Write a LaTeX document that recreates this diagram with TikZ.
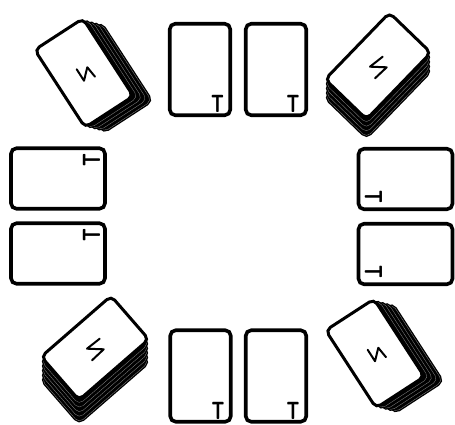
\documentclass[tikz,border=0pt]{standalone}
\usetikzlibrary{calc}
\newcommand{\narrowT}{\scalebox{0.7}[1]{T}}
\begin{document}
\begin{tikzpicture}[x=1pt,y=-1pt,
 card/.style={draw=black, line width=3.6pt, rounded corners=5.5pt, fill=white, inner sep=0pt},
 upcard/.style={card, minimum width=60.5pt, minimum height=91.5pt},
 sidecard/.style={card, minimum width=94pt, minimum height=60.5pt},
 deckface/.style={card, line width=3pt, minimum width=57.5pt, minimum height=92.5pt},
 decklayer/.style={deckface, fill=black, draw=black, double=black!45, double distance=0.3pt, line width=1.4pt},
 tmark/.style={font=\fontsize{25}{25}\selectfont\sffamily\bfseries, inner sep=0pt},
 glyph/.style={line width=2pt, line cap=round, line join=round}]
\useasboundingbox (0,0) rectangle (455,425);

% flat cards
\node[upcard] (t1) at (200,69.5) {};
\node[upcard] (t2) at (276,69.5) {};
\node[upcard] (b1) at (200.5,376) {};
\node[upcard] (b2) at (276,376) {};
\node[sidecard] (l1) at (58,178.5) {};
\node[sidecard] (l2) at (58,253.5) {};
\node[sidecard] (r1) at (405.5,179) {};
\node[sidecard] (r2) at (405.5,254) {};

% T marks
\node[tmark] (mt1) at (217.5,103.5) {\narrowT};
\node[tmark] (mt2) at (293,103.5) {\narrowT};
\node[tmark] (mb1) at (218,410.5) {\narrowT};
\node[tmark] (mb2) at (293,410.5) {\narrowT};
\node[tmark, rotate=90] (ml1) at (91.5,160) {\narrowT};
\node[tmark, rotate=90] (ml2) at (91.5,235) {\narrowT};
\node[tmark, rotate=-90] (mr1) at (373.5,197) {\narrowT};
\node[tmark, rotate=-90] (mr2) at (373.5,272) {\narrowT};

% decks
\foreach \i in {4,3,2,1}
  \node[decklayer, rotate=33] at ($(84,73)+\i*(4.6,1.2)$) {};
\node[deckface, rotate=33] (fTL) at (84,73) {};

\foreach \i in {4,3,2,1}
  \node[decklayer, rotate=-44] at ($(378,66)+\i*(0,4.6)$) {};
\node[deckface, rotate=-44] (fTR) at (378,66) {};

\foreach \i in {5,4,3,2,1}
  \node[decklayer, rotate=-49] at ($(95,348)+\i*(0,4.6)$) {};
\node[deckface, rotate=-49] (fBL) at (95,348) {};

\foreach \i in {4,3,2,1}
  \node[decklayer, rotate=33] at ($(375,353.5)+\i*(4.6,1.2)$) {};
\node[deckface, rotate=33] (fBR) at (375,353.5) {};

% glyphs on deck tops
\begin{scope}[shift={(fTL.center)}]
  \draw[glyph] (-7.3,-3.7) -- (0,7.7) -- (3.3,-5.7) -- (11,3.7);
\end{scope}
\begin{scope}[shift={(fBR.center)}]
  \draw[glyph] (-7.3,-3.7) -- (0,7.7) -- (3.3,-5.7) -- (11,3.7);
\end{scope}
\begin{scope}[shift={(fTR.center)}]
  \draw[glyph] (4.7,-9.3) -- (-8,0.7) -- (8.7,1.3) -- (-3,12.3);
\end{scope}
\begin{scope}[shift={(fBL.center)}]
  \draw[glyph] (4.7,-9.3) -- (-8,0.7) -- (8.7,1.3) -- (-3,12.3);
\end{scope}
\end{tikzpicture}
\end{document}
